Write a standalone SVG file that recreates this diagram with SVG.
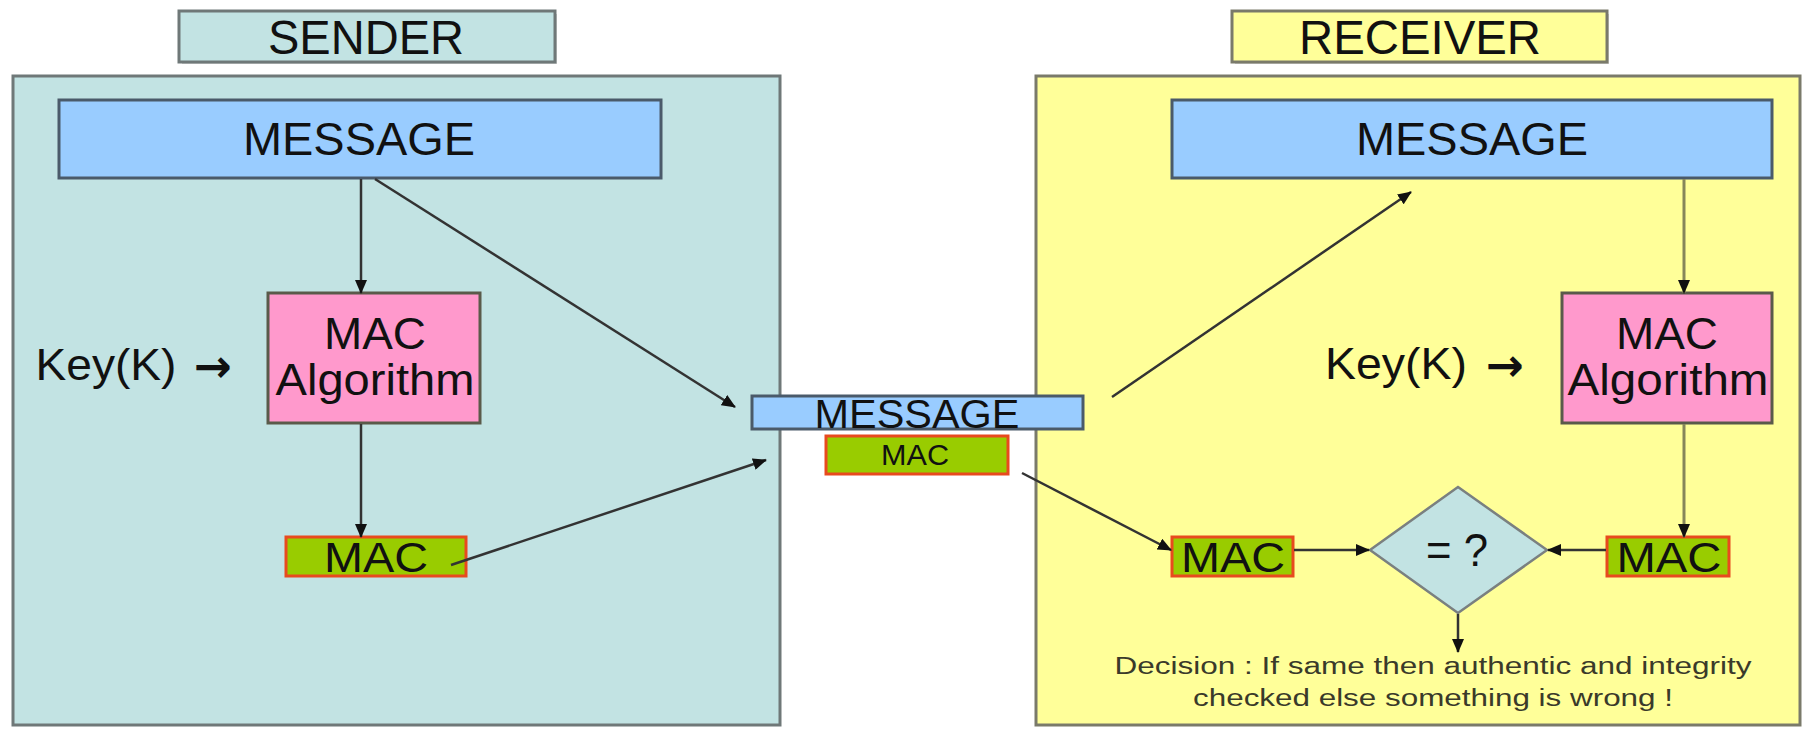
<svg xmlns="http://www.w3.org/2000/svg" width="1809" height="729" viewBox="0 0 1809 729">
<defs>
<style>
.t{font-family:"Liberation Sans",Arial,sans-serif;fill:#111;text-anchor:middle}
.ar{font-family:"Noto Sans","DejaVu Sans",sans-serif;font-weight:bold;fill:#111;text-anchor:middle}
.panelS{fill:#c2e3e3;stroke:#6f7878;stroke-width:3}
.panelR{fill:#ffff99;stroke:#7a7a6a;stroke-width:3}
.msg{fill:#99ccff;stroke:#4a5a6a;stroke-width:3}
.alg{fill:#ff99cc;stroke:#5a5a4a;stroke-width:3}
.mac{fill:#99cc00;stroke:#e84a1e;stroke-width:3}
.c{stroke:#333;stroke-width:2.5;fill:none}
.co{stroke:#86865a;stroke-width:3;fill:none}
.dec{font-family:"Liberation Sans",Arial,sans-serif;fill:#3a3a2a;text-anchor:middle}
</style>
<marker id="ah" markerUnits="userSpaceOnUse" markerWidth="14" markerHeight="12" refX="13" refY="6" orient="auto">
<path d="M0,0 L14,6 L0,12 Z" fill="#111"/>
</marker>
</defs>
<rect width="1809" height="729" fill="#fff"/>
<g id="sender-panel">
<rect class="panelS" x="13" y="76" width="767" height="649"/>
</g>
<g id="receiver-panel">
<rect class="panelR" x="1036" y="76" width="764" height="649"/>
</g>
<g id="sender-label">
<rect x="182" y="14" width="375" height="50" fill="#d0d0d0"/>
<rect x="179" y="11" width="376" height="51" fill="#c2e3e3" stroke="#6f7878" stroke-width="3"/>
<text class="t" x="366" y="54" font-size="48" textLength="196" lengthAdjust="spacingAndGlyphs">SENDER</text>
</g>
<g id="receiver-label">
<rect x="1235" y="14" width="374" height="50" fill="#d0d0d0"/>
<rect x="1232" y="11" width="375" height="51" fill="#ffff99" stroke="#7a7a6a" stroke-width="3"/>
<text class="t" x="1420" y="54" font-size="48" textLength="242" lengthAdjust="spacingAndGlyphs">RECEIVER</text>
</g>
<g id="sender-message">
<rect class="msg" x="59" y="100" width="602" height="78"/>
<text class="t" x="359" y="155" font-size="47" textLength="232" lengthAdjust="spacingAndGlyphs">MESSAGE</text>
</g>
<g id="sender-mac-algorithm">
<rect class="alg" x="268" y="293" width="212" height="130"/>
<text class="t" x="375" y="349" font-size="44" textLength="102" lengthAdjust="spacingAndGlyphs">MAC</text>
<text class="t" x="375" y="395" font-size="44" textLength="199" lengthAdjust="spacingAndGlyphs">Algorithm</text>
</g>
<g id="sender-key">
<text class="t" x="106" y="380" font-size="44" textLength="141" lengthAdjust="spacingAndGlyphs">Key(K)</text>
<text class="ar" x="213" y="382" font-size="46" textLength="38" lengthAdjust="spacingAndGlyphs">→</text>
</g>
<g id="sender-mac">
<rect class="mac" x="286" y="537" width="180" height="39"/>
<text class="t" x="376" y="572" font-size="42" textLength="104" lengthAdjust="spacingAndGlyphs">MAC</text>
</g>
<g id="transit-message">
<rect class="msg" x="752" y="396" width="331" height="33"/>
<text class="t" x="917" y="428" font-size="41" textLength="205" lengthAdjust="spacingAndGlyphs">MESSAGE</text>
</g>
<g id="transit-mac">
<rect class="mac" x="826" y="436" width="182" height="38"/>
<text class="t" x="915" y="465" font-size="29" textLength="68" lengthAdjust="spacingAndGlyphs">MAC</text>
</g>
<g id="receiver-message">
<rect class="msg" x="1172" y="100" width="600" height="78" stroke="#6a6a50"/>
<text class="t" x="1472" y="155" font-size="47" textLength="232" lengthAdjust="spacingAndGlyphs">MESSAGE</text>
</g>
<g id="receiver-mac-algorithm">
<rect class="alg" x="1562" y="293" width="210" height="130" stroke="#7a7a5a"/>
<text class="t" x="1667" y="349" font-size="44" textLength="102" lengthAdjust="spacingAndGlyphs">MAC</text>
<text class="t" x="1668" y="395" font-size="44" textLength="201" lengthAdjust="spacingAndGlyphs">Algorithm</text>
</g>
<g id="receiver-key">
<text class="t" x="1396" y="379" font-size="44" textLength="142" lengthAdjust="spacingAndGlyphs">Key(K)</text>
<text class="ar" x="1505" y="381" font-size="46" textLength="38" lengthAdjust="spacingAndGlyphs">→</text>
</g>
<g id="receiver-mac-received">
<rect class="mac" x="1172" y="537" width="121" height="39"/>
<text class="t" x="1233" y="572" font-size="42" textLength="104" lengthAdjust="spacingAndGlyphs">MAC</text>
</g>
<g id="receiver-mac-computed">
<rect class="mac" x="1607" y="537" width="122" height="39"/>
<text class="t" x="1669" y="572" font-size="42" textLength="105" lengthAdjust="spacingAndGlyphs">MAC</text>
</g>
<g id="compare">
<polygon points="1458,487 1547,550 1458,613 1370,550" fill="#c2e3e3" stroke="#7a8080" stroke-width="2.5"/>
<text class="t" x="1457" y="566" font-size="46" textLength="62" lengthAdjust="spacingAndGlyphs">= ?</text>
</g>
<g id="decision">
<text class="dec" x="1433" y="674" font-size="23" textLength="637" lengthAdjust="spacingAndGlyphs">Decision : If same then authentic and integrity</text>
<text class="dec" x="1433" y="706" font-size="23" textLength="480" lengthAdjust="spacingAndGlyphs">checked else something is wrong !</text>
</g>
<g id="connectors">
<line class="c" x1="361" y1="179" x2="361" y2="293" marker-end="url(#ah)"/>
<line class="c" x1="375" y1="179" x2="735" y2="407" marker-end="url(#ah)"/>
<line class="c" x1="361" y1="424" x2="361" y2="537" marker-end="url(#ah)"/>
<line class="c" x1="451" y1="565" x2="766" y2="460" marker-end="url(#ah)"/>
<line class="c" x1="1112" y1="397" x2="1411" y2="192" marker-end="url(#ah)"/>
<line class="c" x1="1022" y1="473" x2="1171" y2="550" marker-end="url(#ah)"/>
<line class="co" x1="1684" y1="179" x2="1684" y2="293" marker-end="url(#ah)"/>
<line class="co" x1="1684" y1="424" x2="1684" y2="537" marker-end="url(#ah)"/>
<line class="c" x1="1294" y1="550" x2="1369" y2="550" marker-end="url(#ah)"/>
<line class="c" x1="1606" y1="550" x2="1548" y2="550" marker-end="url(#ah)"/>
<line class="c" x1="1458" y1="614" x2="1458" y2="652" marker-end="url(#ah)"/>
</g>
</svg>
